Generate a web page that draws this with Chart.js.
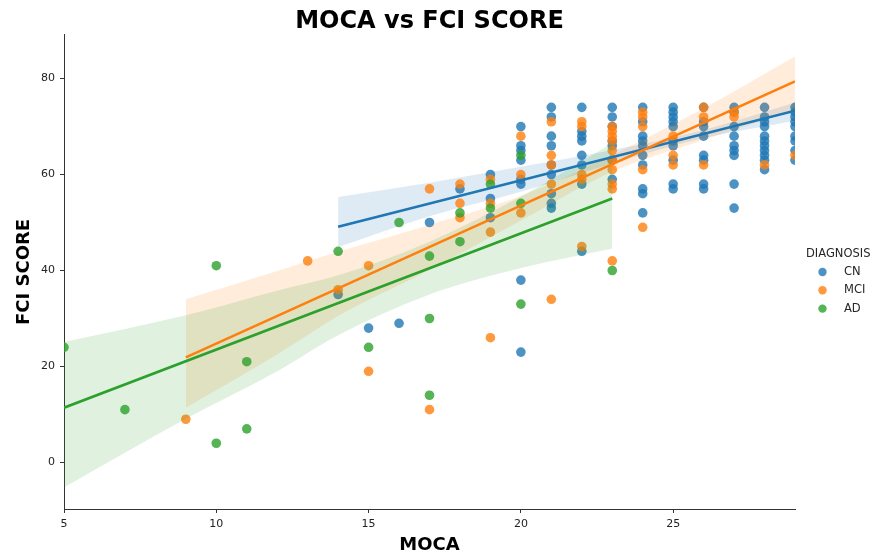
<!DOCTYPE html>
<html>
<head>
<meta charset="utf-8">
<script src="https://cdn.jsdelivr.net/npm/chart.js@4.4.0/dist/chart.umd.min.js"></script>
<style>
  html, body { margin: 0; padding: 0; background: #ffffff; }
  #wrap { width: 876px; height: 558px; }
</style>
</head>
<body>
<div id="wrap"><canvas id="chart" width="876" height="558"></canvas></div>
<script>
// ---- data -------------------------------------------------------------
const groups = ['CN', 'MCI', 'AD'];
const legendTitle = 'DIAGNOSIS';
const xTicks = [5, 10, 15, 20, 25];
const yTicks = [0, 20, 40, 60, 80];
const xRange = [5, 29];
const yRange = [-9.7, 89.1];

// MOCA / FCI SCORE per subject, by diagnosis
const cnMoca = [14, 15, 16, 17, 18, 19, 19, 19,
  20, 20, 20, 20, 20, 20, 20, 20,
  21, 21, 21, 21, 21, 21, 21, 21, 21,
  22, 22, 22, 22, 22, 22, 22, 22,
  23, 23, 23, 23, 23, 23, 23,
  24, 24, 24, 24, 24, 24, 24, 24, 24, 24,
  25, 25, 25, 25, 25, 25, 25, 25, 25, 25,
  26, 26, 26, 26, 26, 26, 26, 26,
  27, 27, 27, 27, 27, 27, 27, 27, 27,
  28, 28, 28, 28, 28, 28, 28, 28, 28, 28, 28,
  29, 29, 29, 29, 29, 29, 29, 29, 29];
const cnFci = [35, 28, 29, 50, 57, 60, 55, 51,
  70, 66, 65, 63, 59, 58, 38, 23,
  74, 72, 68, 66, 62, 60, 56, 54, 53,
  74, 69, 68, 67, 64, 62, 58, 44,
  74, 72, 70, 67, 66, 63, 59,
  74, 71, 68, 67, 66, 64, 62, 57, 56, 52,
  74, 73, 72, 71, 70, 67, 66, 63, 58, 57,
  74, 71, 70, 68, 64, 63, 58, 57,
  74, 73, 70, 68, 66, 65, 64, 58, 53,
  74, 72, 71, 70, 68, 67, 66, 65, 64, 63, 61,
  74, 73, 72, 71, 70, 68, 67, 65, 63];

const mciMoca = [9, 13, 14, 15, 15, 17, 17, 18, 18, 18,
  19, 19, 19, 19, 20, 20, 20,
  21, 21, 21, 21, 21, 22, 22, 22, 22, 22,
  23, 23, 23, 23, 23, 23, 23, 23, 23, 23,
  24, 24, 24, 24, 24, 25, 25, 25,
  26, 26, 26, 27, 27, 28, 29];
const mciFci = [9, 42, 36, 41, 19, 57, 11, 58, 54, 51,
  59, 54, 48, 26, 68, 60, 52,
  71, 64, 62, 58, 34, 71, 70, 60, 59, 45,
  70, 69, 68, 67, 65, 63, 61, 58, 57, 42,
  73, 72, 70, 61, 49, 68, 64, 62,
  74, 72, 62, 73, 72, 62, 64];

const adMoca = [5, 7, 10, 10, 11, 11, 14, 15, 16, 17, 17, 17,
  18, 18, 19, 19, 20, 20, 20, 23];
const adFci = [24, 11, 41, 4, 21, 7, 44, 24, 50, 43, 30, 14,
  52, 46, 58, 53, 64, 54, 33, 40];

// fitted regression lines (end points)
const cnFitX = [14, 29];   const cnFitY = [49.1, 73.3];
const mciFitX = [9, 29];   const mciFitY = [21.9, 79.4];
const adFitX = [5, 23];    const adFitY = [11.4, 55.0];

// 95% confidence bands around each fit
const cnBandX = [14, 17, 20, 23, 26, 29];
const cnBandHi = [55.3, 58.3, 61.6, 65.1, 69.3, 75.0];
const cnBandLo = [44.9, 51.3, 56.4, 62.3, 67.6, 71.2];

const mciBandX = [9, 12, 14, 17, 20, 23, 26, 29];
const mciBandHi = [34.0, 39.9, 43.9, 49.5, 55.5, 64.1, 73.8, 84.6];
const mciBandLo = [11.4, 22.5, 30.5, 40.1, 50.4, 60.6, 67.2, 73.5];

const adBandX = [5, 9, 12, 14, 17, 20, 23];
const adBandHi = [25.1, 30.7, 35.8, 39.0, 46.0, 55.4, 66.5];
const adBandLo = [-5.2, 9.1, 19.0, 26.5, 35.0, 40.5, 44.6];

// ---- styling helpers ---------------------------------------------------
const palette = { CN: [31, 119, 180], MCI: [255, 127, 14], AD: [44, 160, 44] };
const rgba = (g, a) => `rgba(${palette[g].join(',')},${a})`;
const pts = (xs, ys) => xs.map((x, i) => ({ x: x, y: ys[i] }));
const FONT = '"DejaVu Sans", "Liberation Sans", sans-serif';

function scatterSet(g, xs, ys, order) {
  return {
    type: 'scatter', label: g, data: pts(xs, ys),
    backgroundColor: rgba(g, 0.8), borderWidth: 0,
    pointRadius: 4.8, pointHoverRadius: 4.8, order: order, clip: 0
  };
}
function bandSets(g, xs, hi, lo, order) {
  const common = {
    type: 'line', borderColor: 'rgba(0,0,0,0)', borderWidth: 1,
    pointRadius: 0, pointHoverRadius: 0, cubicInterpolationMode: 'monotone',
    order: order, clip: 0
  };
  return [
    Object.assign({ label: g + ' ci hi', data: pts(xs, hi), fill: '+1', backgroundColor: rgba(g, 0.15) }, common),
    Object.assign({ label: g + ' ci lo', data: pts(xs, lo), fill: false }, common)
  ];
}
function fitSet(g, xs, ys, order) {
  return {
    type: 'line', label: g + ' fit', data: pts(xs, ys),
    borderColor: rgba(g, 1), borderWidth: 2.6, pointRadius: 0, pointHoverRadius: 0,
    fill: false, order: order, clip: 0
  };
}

// draw sequence: points and bands per group, then all fitted lines on top
const datasets = [
  scatterSet('CN', cnMoca, cnFci, 9),
  ...bandSets('CN', cnBandX, cnBandHi, cnBandLo, 8),
  scatterSet('MCI', mciMoca, mciFci, 7),
  ...bandSets('MCI', mciBandX, mciBandHi, mciBandLo, 6),
  scatterSet('AD', adMoca, adFci, 5),
  ...bandSets('AD', adBandX, adBandHi, adBandLo, 4),
  fitSet('CN', cnFitX, cnFitY, 3),
  fitSet('MCI', mciFitX, mciFitY, 2),
  fitSet('AD', adFitX, adFitY, 1)
];

// legend at the right of the plot area
const diagnosisLegend = {
  id: 'diagnosisLegend',
  afterDraw(chart) {
    const { ctx, chartArea } = chart;
    const x0 = chartArea.right + 11;
    ctx.save();
    ctx.font = '11.5px ' + FONT;
    ctx.textBaseline = 'middle';
    ctx.textAlign = 'left';
    ctx.fillStyle = '#262626';
    ctx.fillText(legendTitle, x0, 254);
    groups.forEach((g, i) => {
      const y = 272 + i * 18.3;
      ctx.beginPath();
      ctx.arc(x0 + 16.5, y, 4.2, 0, Math.PI * 2);
      ctx.fillStyle = rgba(g, 0.8);
      ctx.fill();
      ctx.fillStyle = '#262626';
      ctx.fillText(g, x0 + 38, y);
    });
    ctx.restore();
  }
};

const axisCommon = {
  type: 'linear',
  grid: { drawOnChartArea: false, drawTicks: true, tickLength: 4, color: '#333333', lineWidth: 1 },
  border: { display: true, color: '#333333', width: 1 },
  ticks: { font: { family: FONT, size: 11 }, color: '#222222' }
};

new Chart(document.getElementById('chart'), {
  type: 'scatter',
  data: { datasets: datasets },
  plugins: [diagnosisLegend],
  options: {
    responsive: false,
    animation: false,
    events: [],
    layout: { padding: { left: 0, right: 81, top: 0, bottom: 0 } },
    plugins: {
      legend: { display: false },
      tooltip: { enabled: false },
      filler: { drawTime: 'beforeDatasetDraw' },
      title: {
        display: true, text: 'MOCA vs FCI SCORE', fullSize: false,
        color: '#000000',
        font: { family: FONT, size: 24, weight: 'bold', lineHeight: 1.12 },
        padding: { top: 8, bottom: 0 }
      }
    },
    scales: {
      x: Object.assign({}, axisCommon, {
        min: xRange[0], max: xRange[1],
        afterBuildTicks: s => { s.ticks = xTicks.map(v => ({ value: v })); },
        afterFit: s => { s.height = 49; },
        ticks: Object.assign({}, axisCommon.ticks, { padding: 5, maxRotation: 0 }),
        title: {
          display: true, text: 'MOCA', color: '#000000',
          font: { family: FONT, size: 18, weight: 'bold' },
          padding: { top: 0, bottom: 2 }
        }
      }),
      y: Object.assign({}, axisCommon, {
        min: yRange[0], max: yRange[1],
        afterBuildTicks: s => { s.ticks = yTicks.map(v => ({ value: v })); },
        afterFit: s => { s.width = 64; },
        ticks: Object.assign({}, axisCommon.ticks, { padding: 5 }),
        title: {
          display: true, text: 'FCI SCORE', color: '#000000',
          font: { family: FONT, size: 18, weight: 'bold' },
          padding: { top: 14, bottom: 0 }
        }
      })
    }
  }
});
</script>
</body>
</html>
